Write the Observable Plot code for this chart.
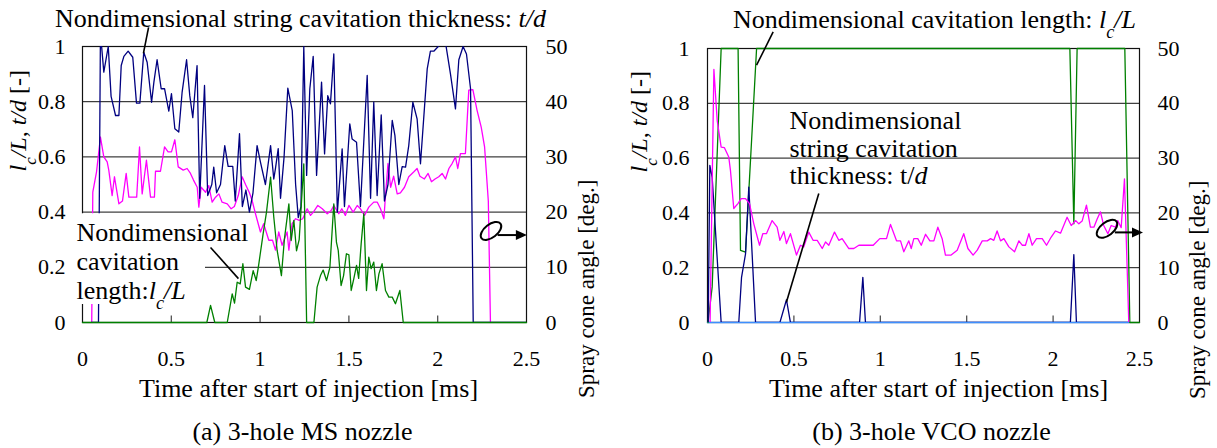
<!DOCTYPE html>
<html><head><meta charset="utf-8">
<script src="https://cdn.jsdelivr.net/npm/d3@7"></script>
<script src="https://cdn.jsdelivr.net/npm/@observablehq/plot@0.6"></script>
<style>
body{margin:0;background:#fff;}
#wrap{display:flex;width:1217px;height:448px;overflow:hidden;}
#wrap svg, #wrap svg text, #wrap svg tspan{font-family:"Liberation Serif","Times New Roman",serif !important;}
</style></head><body><div id="wrap"></div>
<script>
// ---------- axes ----------
const xTicks = [0, 0.5, 1, 1.5, 2, 2.5];
const yTicks = [0, 0.2, 0.4, 0.6, 0.8, 1];
const angleMax = 50; // right axis: 0..50 deg on the same frame as 0..1

// ---------- (a) 3-hole MS nozzle : [time ms, value] ----------
const msThickness = [[0.05,0],[0.09,0],[0.101,1.05],[0.12,0.907],[0.145,1.0],[0.161,0.819],[0.186,0.75],[0.205,0.75],[0.218,0.931],[0.233,0.964],[0.257,0.983],[0.283,0.961],[0.304,0.795],[0.323,0.795],[0.345,0.979],[0.364,0.943],[0.389,0.798],[0.402,0.871],[0.42,0.952],[0.443,0.847],[0.462,0.847],[0.486,0.766],[0.501,0.829],[0.52,0.702],[0.542,0.69],[0.561,0.835],[0.586,0.952],[0.604,0.822],[0.621,0.742],[0.645,0.931],[0.66,0.45],[0.687,0.859],[0.705,0.46],[0.728,0.5],[0.739,0.563],[0.755,0.47],[0.777,0.5],[0.801,0.641],[0.82,0.566],[0.846,0.566],[0.86,0.44],[0.884,0.684],[0.9,0.42],[0.92,0.48],[0.94,0.4],[0.96,0.47],[0.983,0.641],[1.002,0.581],[1.03,0.5],[1.059,0.641],[1.077,0.52],[1.087,0.56],[1.102,0.63],[1.115,0.45],[1.135,0.6],[1.156,0.849],[1.181,0.768],[1.2,0.5],[1.215,0.38],[1.23,0.42],[1.246,1.0],[1.262,0.533],[1.28,0.847],[1.299,0.964],[1.318,0.533],[1.346,0.871],[1.363,0.611],[1.381,0.822],[1.396,0.792],[1.415,0.973],[1.435,0.4],[1.462,0.629],[1.475,0.42],[1.505,0.72],[1.518,0.665],[1.543,0.653],[1.565,0.42],[1.603,0.895],[1.622,0.45],[1.64,0.798],[1.659,0.46],[1.682,0.752],[1.7,0.44],[1.72,0.5],[1.744,0.732],[1.759,0.678],[1.781,0.5],[1.8,0.565],[1.819,0.563],[1.837,0.641],[1.86,0.798],[1.884,0.738],[1.903,0.575],[1.941,0.919],[1.959,0.983],[1.978,0.983],[2.003,1.0],[2.02,1.03],[2.04,1.03],[2.072,0.9],[2.1,0.774],[2.119,0.952],[2.143,1.0],[2.162,0.973],[2.185,0.847],[2.2,0],[2.5,0]];
const msAngleDeg = [[0.052,0],[0.058,23.6],[0.079,27.3],[0.101,33.6],[0.12,30.0],[0.139,29.1],[0.148,27.6],[0.167,23.0],[0.18,26.4],[0.205,21.5],[0.225,22.0],[0.246,27.0],[0.261,22.7],[0.289,22.7],[0.305,22.7],[0.321,31.8],[0.336,23.3],[0.36,29.4],[0.383,22.7],[0.405,22.7],[0.411,27.4],[0.439,27.4],[0.462,31.8],[0.482,30.9],[0.501,30.9],[0.52,33.1],[0.539,28.2],[0.567,27.6],[0.589,27.9],[0.608,27.0],[0.625,25.8],[0.646,24.5],[0.655,20.9],[0.668,24.5],[0.693,23.6],[0.711,24.8],[0.73,21.8],[0.749,22.7],[0.768,23.3],[0.786,21.8],[0.815,21.5],[0.837,20.6],[0.855,21.0],[0.877,23.0],[0.899,26.4],[0.918,25.0],[0.94,23.5],[0.955,22.1],[0.974,19.7],[1.002,16.4],[1.02,17.9],[1.049,14.9],[1.07,14.9],[1.087,13.1],[1.105,16.4],[1.124,14.0],[1.152,16.4],[1.162,13.1],[1.18,17.9],[1.2,18.8],[1.22,18.5],[1.24,18.8],[1.265,20.6],[1.284,19.4],[1.3,20.0],[1.325,21.2],[1.35,20.6],[1.378,19.7],[1.4,20.3],[1.415,21.2],[1.443,19.7],[1.46,20.6],[1.48,19.4],[1.5,21.2],[1.524,20.0],[1.547,21.2],[1.565,20.6],[1.588,19.4],[1.612,20.9],[1.64,21.8],[1.66,21.8],[1.678,20.6],[1.697,18.8],[1.705,22.5],[1.72,28.8],[1.735,24.5],[1.752,26.5],[1.772,23.3],[1.79,23.5],[1.813,24.5],[1.837,26.4],[1.866,27.3],[1.884,27.9],[1.9,26.5],[1.925,26.0],[1.946,27.0],[1.965,25.5],[1.985,26.0],[2.006,26.4],[2.025,27.0],[2.044,26.0],[2.063,27.9],[2.081,28.8],[2.1,30.0],[2.113,27.9],[2.128,30.6],[2.156,30.6],[2.175,42.1],[2.198,42.2],[2.222,38.4],[2.245,35.4],[2.264,31.8],[2.285,22.0],[2.297,0]];
const msLength = [[0,0],[0.7,0],[0.721,0.062],[0.745,0],[0.815,0],[0.843,0.104],[0.856,0.07],[0.871,0.146],[0.888,0.14],[0.903,0.213],[0.918,0.128],[0.94,0.12],[0.961,0.188],[0.978,0.152],[0.99,0.2],[1.017,0.321],[1.036,0.4],[1.059,0.527],[1.077,0.382],[1.096,0.261],[1.12,0.17],[1.137,0.303],[1.162,0.43],[1.175,0.297],[1.19,0.37],[1.205,0.26],[1.22,0.3],[1.246,0.575],[1.262,0],[1.303,0],[1.321,0.128],[1.34,0.17],[1.355,0.19],[1.374,0.152],[1.393,0.2],[1.415,0.43],[1.43,0.29],[1.44,0.261],[1.456,0.134],[1.47,0.17],[1.486,0.249],[1.5,0.245],[1.513,0.116],[1.528,0.16],[1.543,0.207],[1.555,0.16],[1.569,0.285],[1.584,0.394],[1.599,0.116],[1.612,0.237],[1.625,0.195],[1.64,0.219],[1.655,0.116],[1.669,0.176],[1.687,0.213],[1.706,0.116],[1.725,0.092],[1.744,0.092],[1.762,0.068],[1.787,0.116],[1.806,0],[2.5,0]];

// ---------- (b) 3-hole VCO nozzle : [time ms, value] ----------
const vcoThickness = [[0,0],[0.004,0],[0.0135,0.573],[0.027,0.53],[0.079,0],[0.181,0],[0.197,0.165],[0.22,0.25],[0.239,0.494],[0.278,0],[0.419,0],[0.457,0.083],[0.48,0],[0.88,0],[0.899,0.165],[0.914,0],[2.1,0],[2.12,0.248],[2.135,0],[2.44,0]];
const vcoThickness2 = [[0,0],[2.44,0]];
const vcoAngleDeg = [[0.015,0],[0.037,46.2],[0.056,36.9],[0.079,32.0],[0.098,31.9],[0.123,30.2],[0.133,27.7],[0.152,20.8],[0.176,21.7],[0.195,22.6],[0.22,22.6],[0.243,21.7],[0.268,18.0],[0.301,14.1],[0.32,16.2],[0.341,16.2],[0.374,18.6],[0.403,17.4],[0.419,15.0],[0.442,16.6],[0.457,14.4],[0.48,16.2],[0.515,12.3],[0.538,14.1],[0.557,13.8],[0.586,16.5],[0.611,15.0],[0.635,15.0],[0.664,13.5],[0.683,14.7],[0.702,14.1],[0.735,16.5],[0.76,15.0],[0.779,15.3],[0.818,13.5],[0.847,13.5],[0.876,14.1],[0.959,14.1],[0.997,15.3],[1.036,15.3],[1.059,17.9],[1.094,14.9],[1.117,14.9],[1.136,12.9],[1.165,14.9],[1.179,13.5],[1.194,15.3],[1.217,15.3],[1.237,14.1],[1.262,16.1],[1.287,14.9],[1.31,14.9],[1.333,17.4],[1.358,15.3],[1.377,12.3],[1.41,12.3],[1.445,13.2],[1.483,16.2],[1.507,13.5],[1.537,12.3],[1.561,13.2],[1.59,14.9],[1.619,14.9],[1.638,15.3],[1.657,15.0],[1.676,16.7],[1.696,14.9],[1.715,15.3],[1.744,13.8],[1.777,12.9],[1.802,14.9],[1.821,14.1],[1.84,14.1],[1.86,16.2],[1.879,14.1],[1.904,15.3],[1.937,15.3],[1.962,14.1],[1.989,15.6],[2.014,16.7],[2.043,16.3],[2.081,19.2],[2.105,17.7],[2.13,18.6],[2.149,18.0],[2.168,18.5],[2.193,21.4],[2.216,17.4],[2.236,17.4],[2.255,18.9],[2.274,20.2],[2.293,17.7],[2.317,16.2],[2.336,17.7],[2.361,17.4],[2.374,18.6],[2.394,17.3],[2.413,26.2],[2.438,0]];
const vcoLength = [[0.003,0],[0.027,0.13],[0.079,1],[0.177,1],[0.191,0.263],[0.22,0.257],[0.284,1],[2.097,1],[2.12,0.36],[2.139,1],[2.415,1],[2.444,0],[2.5,0]];

// ---------- texts ----------
const xTitle = "Time after start of injection [ms]";
const yTitleLeft = "*l*_c*/L*, *t/d* [-]";
const yTitleRight = "Spray cone angle [deg.]";
const captions = ["(a) 3-hole MS nozzle", "(b) 3-hole VCO nozzle"];

const msNotes = [
  {t: 1.2275, v: 1.143, text: "Nondimensional string cavitation thickness: *t/d*", anchor: "middle", lh: 1.1},
  {t: -0.034, v: 0.371, text: "Nondimensional\ncavitation\nlength:*l*_c*/L*", anchor: "start", lh: 1.115}
];
const msLeaders = [
  {t1: 0.372, v1: 1.069, t2: 0.343, v2: 0.975},
  {t1: 0.721, v1: 0.272, t2: 0.878, v2: 0.159}
];
const msBoxes = [{t1: -0.0676, t2: 0.6926, v1: 0.0652, v2: 0.394}];
const msLoop = {t: 2.303, v: 0.33, tFrom: 2.34, tTip: 2.505, vArrow: 0.315};

const vcoNotes = [
  {t: 1.3137, v: 1.149, text: "Nondimensional cavitation length: *l*_c*/L*", anchor: "middle", lh: 1.1},
  {t: 0.4745, v: 0.7766, text: "Nondimensional\nstring cavitation\nthickness: t/*d*", anchor: "start", lh: 1.06}
];
const vcoLeaders = [
  {t1: 0.380, v1: 1.061, t2: 0.284, v2: 0.939},
  {t1: 0.644, v1: 0.471, t2: 0.457, v2: 0.075}
];
const vcoLoop = {t: 2.315, v: 0.34, tFrom: 2.36, tTip: 2.523, vArrow: 0.327};

const C = {navy: "#000080", pink: "#ff00ff", green: "#008000", sky: "#3d8fff"};
const FONT = "Liberation Serif";
const fmt = d => String(+(+d).toFixed(2));

function loopArrow(s) {
  return (index, scales) => {
    const g = d3.create("svg:g").attr("fill", "none").attr("stroke", "black");
    const cx = scales.x(s.t), cy = scales.y(s.v);
    g.append("ellipse").attr("cx", cx).attr("cy", cy).attr("rx", 12).attr("ry", 6.5)
      .attr("transform", `rotate(-38,${cx},${cy})`).attr("stroke-width", 2);
    const x1 = scales.x(s.tFrom), x2 = scales.x(s.tTip), ya = scales.y(s.vArrow);
    g.append("line").attr("x1", x1).attr("x2", x2 - 8).attr("y1", ya).attr("y2", ya).attr("stroke-width", 2);
    g.append("path").attr("d", `M${x2},${ya}L${x2 - 11},${ya - 5}L${x2 - 11},${ya + 5}Z`)
      .attr("fill", "black").attr("stroke", "none");
    return g.node();
  };
}

function richify(root) {
  const NS = "http://www.w3.org/2000/svg";
  root.querySelectorAll("text, tspan").forEach(el => {
    if (el.children.length) return;
    const s = el.textContent;
    if (!/[*_]/.test(s)) return;
    el.textContent = "";
    const add = (txt, italic, sub) => {
      const ts = document.createElementNS(NS, "tspan");
      ts.textContent = txt;
      if (italic) ts.setAttribute("font-style", "italic");
      if (sub) { ts.setAttribute("baseline-shift", "sub"); ts.setAttribute("font-size", "70%"); }
      el.appendChild(ts);
    };
    const re = /\*([^*]+)\*|_(\w)/g;
    let last = 0, m;
    while ((m = re.exec(s))) {
      if (m.index > last) add(s.slice(last, m.index));
      if (m[1] !== undefined) add(m[1], true); else add(m[2], true, true);
      last = re.lastIndex;
    }
    if (last < s.length) add(s.slice(last));
  });
}

function panel(o) {
  const line = (data, stroke, isAngle, clip) => Plot.line(data, {
    x: d => d[0], y: d => isAngle ? d[1] / angleMax : d[1],
    stroke, strokeWidth: 1.3, clip
  });
  const txt = {fontFamily: FONT, fill: "black"};
  const marks = [
    Plot.ruleY(yTicks, {y: d => d, stroke: "#111", strokeWidth: 1}),
    Plot.frame({stroke: "#111", strokeWidth: 1.2}),
    Plot.ruleX(xTicks.slice(1, -1), {x: d => d, y1: 0, y2: 0.024, stroke: "#444", strokeWidth: 1.2}),
    Plot.axisX({ticks: xTicks, tickSize: 0, tickPadding: 28, tickFormat: fmt, fontSize: 22, fontFamily: FONT, label: null}),
    Plot.axisY({anchor: "left", ticks: yTicks, tickSize: 0, tickPadding: o.padL, tickFormat: fmt, fontSize: 22, fontFamily: FONT, label: null}),
    Plot.axisY({anchor: "right", ticks: yTicks, tickSize: 0, tickPadding: o.padR, tickFormat: d => fmt(d * angleMax), fontSize: 22, fontFamily: FONT, label: null}),
    ...o.lines.map(([data, color, isAngle, clip]) => line(data, color, isAngle, clip)),
    Plot.rect(o.boxes, {x1: "t1", x2: "t2", y1: "v1", y2: "v2", fill: "white"}),
    ...o.notes.map(n => Plot.text([n], {x: "t", y: "v", text: "text", textAnchor: n.anchor, lineAnchor: "top", lineHeight: n.lh, fontSize: 26, ...txt})),
    Plot.link(o.leaders, {x1: "t1", y1: "v1", x2: "t2", y2: "v2", stroke: "black", strokeWidth: 1.6}),
    loopArrow(o.loop),
    Plot.text([xTitle], {text: d => d, frameAnchor: "bottom", dx: o.titleDx, dy: 66, fontSize: 26, lineAnchor: "middle", ...txt}),
    Plot.text([o.caption], {text: d => d, frameAnchor: "bottom", dx: o.capDx, dy: 109, fontSize: 26, lineAnchor: "middle", ...txt}),
    Plot.text([yTitleLeft], {text: d => d, frameAnchor: "left", rotate: -90, dx: o.yTitleLDx, dy: -13, fontSize: 24, lineAnchor: "middle", ...txt}),
    Plot.text([yTitleRight], {text: d => d, frameAnchor: "right", rotate: -90, dx: o.yTitleRDx, dy: -5, fontSize: 23, lineAnchor: "middle", ...txt})
  ];
  const svg = Plot.plot({
    width: o.width, height: 448,
    marginLeft: o.mL, marginRight: o.mR, marginTop: o.mT, marginBottom: 448 - 322,
    x: {domain: [0, 2.5]}, y: {domain: [0, 1]},
    style: {fontFamily: FONT, fontSize: "22px", color: "black", background: "white", overflow: "visible"},
    marks
  });
  richify(svg);
  return svg;
}

const wrap = document.getElementById("wrap");
wrap.appendChild(panel({
  width: 608, mL: 82, mR: 82, mT: 46, padL: 17, padR: 19,
  lines: [[msAngleDeg, C.pink, true, true], [msThickness, C.navy, false, true], [msLength, C.green, false, false]],
  boxes: msBoxes, notes: msNotes, leaders: msLeaders, loop: msLoop,
  caption: captions[0], titleDx: 4, capDx: -2, yTitleLDx: -64, yTitleRDx: 60
}));
wrap.appendChild(panel({
  width: 609, mL: 99, mR: 78, mT: 48, padL: 18, padR: 18,
  lines: [[vcoThickness2, C.sky, false, false], [vcoLength, C.green, false, false], [vcoThickness, C.navy, false, true], [vcoAngleDeg, C.pink, true, true]],
  boxes: [], notes: vcoNotes, leaders: vcoLeaders, loop: vcoLoop,
  caption: captions[1], titleDx: 15, capDx: 8, yTitleLDx: -68, yTitleRDx: 58
}));
</script></body></html>
